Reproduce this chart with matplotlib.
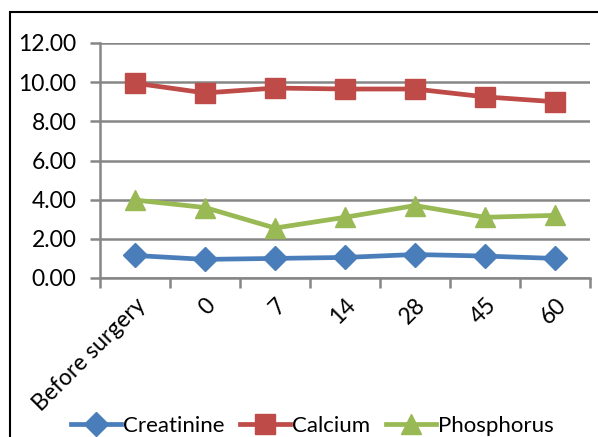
import matplotlib.pyplot as plt
from matplotlib.patches import Rectangle

plt.rcParams['font.family'] = ['Lato', 'DejaVu Sans']

days = ['Before surgery', '0', '7', '14', '28', '45', '60']
creatinine = [1.15, 0.95, 1.0, 1.05, 1.2, 1.12, 1.0]
calcium = [9.95, 9.45, 9.7, 9.65, 9.65, 9.25, 9.0]
phosphorus = [3.98, 3.6, 2.55, 3.1, 3.7, 3.1, 3.2]

fig = plt.figure(figsize=(5.98, 4.37), dpi=100)
ax = fig.add_axes([100 / 598, 1 - 278 / 437, 490 / 598, 235 / 437])

x = list(range(len(days)))
ax.plot(x, creatinine, color='#4A7EBB', lw=3.4, marker='D', ms=12, label='Creatinine')
ax.plot(x, calcium, color='#BE4B48', lw=3.4, marker='s', ms=15, label='Calcium')
ax.plot(x, phosphorus, color='#98B954', lw=3.4, marker='^', ms=15, label='Phosphorus')

ax.set_xlim(-0.5, len(days) - 0.5)
ax.set_ylim(0, 12)
ax.set_yticks([0, 2, 4, 6, 8, 10, 12])
ax.set_yticklabels([f'{v:.2f}' for v in [0, 2, 4, 6, 8, 10, 12]], fontsize=16.5)
ax.set_xticks(x)
ax.set_xticklabels(days, fontsize=16.5, rotation=45, ha='right', va='top',
                   rotation_mode='anchor')
ax.set_xticks([i - 0.5 for i in range(len(days) + 1)], minor=True)
ax.tick_params(axis='x', which='major', length=0, pad=12)
ax.tick_params(axis='x', which='minor', length=7, width=1.8, color='#868686')
ax.tick_params(axis='y', length=7, width=1.8, color='#868686', pad=10)
ax.grid(axis='y', color='#868686', lw=1.8)
ax.set_axisbelow(True)
for side in ['top', 'right']:
    ax.spines[side].set_visible(False)
for side in ['left', 'bottom']:
    ax.spines[side].set_color('#868686')
    ax.spines[side].set_linewidth(1.8)

fig.patches.append(Rectangle((10 / 598, -0.1), 1.2, 1 - 12 / 437 + 0.1,
                             transform=fig.transFigure, fill=False,
                             edgecolor='black', lw=1.5))

fig.legend(loc='center left', bbox_to_anchor=(62 / 598, 11 / 437), ncol=3,
           frameon=False, fontsize=16, handlelength=2.25, handletextpad=0.1,
           columnspacing=0.7, borderaxespad=0)

fig.savefig('out.png', dpi=100)
